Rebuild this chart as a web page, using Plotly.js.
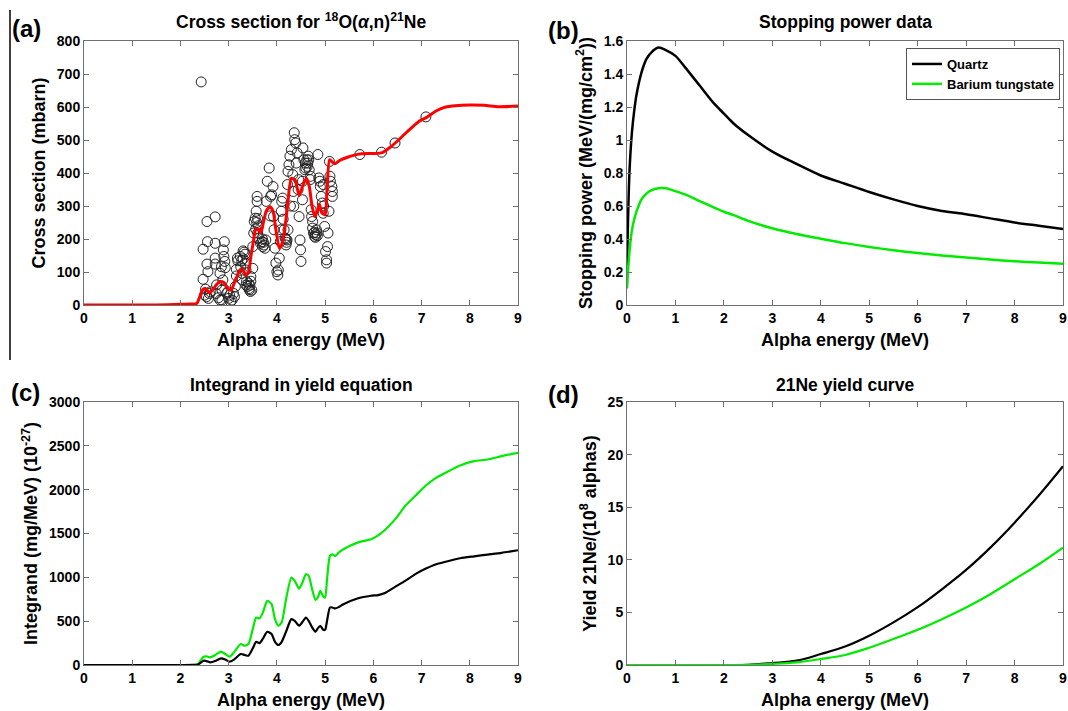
<!DOCTYPE html>
<html>
<head>
<meta charset="utf-8">
<script src="https://cdn.plot.ly/plotly-3.0.1.min.js"></script>
<style>html,body{margin:0;padding:0;background:#fff;}#plot{width:1068px;height:711px;}</style>
</head>
<body>
<div id="plot"></div>
<script>
// ---- Panel (a): measured cross sections (circles) ----
const measE = [2.43,2.47,2.47,2.52,2.55,2.56,2.55,2.57,2.54,2.6,2.72,2.72,2.72,2.72,2.75,2.74,2.79,2.82,2.82,2.85,
  2.91,2.89,2.9,2.92,2.93,2.88,2.86,2.86,2.96,3.0,3.04,3.07,3.1,3.14,3.16,3.18,3.16,3.19,3.24,3.25,
  3.28,3.28,3.3,3.34,3.34,3.36,3.37,3.39,3.43,3.41,3.45,3.46,3.5,3.5,3.52,3.53,3.55,3.57,3.59,3.59,
  3.6,3.63,3.66,3.69,3.71,3.73,3.75,3.77,3.78,3.8,3.84,3.87,3.89,3.92,3.93,3.94,3.96,3.98,4.0,4.02,
  4.03,4.05,4.07,4.08,4.09,4.1,4.12,4.15,4.17,4.19,4.21,4.23,4.22,4.23,4.25,4.27,4.3,4.33,4.34,4.35,
  4.36,4.37,4.39,4.4,4.42,4.45,4.46,4.48,4.49,4.5,4.53,4.53,4.54,4.56,4.59,4.6,4.62,4.64,4.65,4.67,
  4.69,4.71,4.72,4.74,4.74,4.76,4.78,4.8,4.82,4.83,4.85,4.87,4.89,4.9,4.92,4.94,4.96,4.96,4.99,5.01,
  5.03,5.03,5.05,5.06,5.08,5.09,5.1,5.11,5.14,5.15,5.15,5.72,6.17,6.45,7.09,
  3.42,3.44,3.46,3.58,3.6,3.62,3.7,3.72,4.2,4.19,4.78,4.8,4.84,4.66,4.63,3.32,3.3,3.27,2.5,2.58,2.62,
  3.12,3.02,2.98,3.36,3.48,3.56,3.86,4.13,4.28,4.44,4.58,4.7,4.97];
const measXS = [676,169,78,48,253,192,124,101,25,35,267,187,142,124,61,35,22,15,96,116,
  192,167,147,132,113,76,45,15,35,20,10,15,35,56,88,142,108,134,147,116,
  76,96,164,154,127,106,71,56,46,66,41,86,111,177,218,253,263,284,314,329,
  218,203,187,192,177,182,172,197,314,375,415,329,334,359,268,228,172,127,101,91,
  106,142,192,228,284,314,324,228,203,182,197,228,365,405,425,451,471,395,344,299,
  522,501,491,430,461,380,268,197,167,132,375,319,476,440,430,415,440,430,451,410,
  380,289,268,253,233,218,208,213,228,218,456,385,375,359,329,309,365,278,238,162,
  137,127,177,218,284,435,390,375,359,344,329,456,463,491,570,
  50,60,72,250,262,240,200,190,190,200,220,205,210,440,420,160,140,135,30,20,40,
  25,30,40,60,45,230,270,260,300,350,410,390,300];

// ---- Panel (a): fitted cross-section curve ----
const fitE  = [0,0.5,1,1.5,2,2.2,2.34,2.4,2.47,2.52,2.6,2.68,2.75,2.82,2.9,3.0,3.05,3.14,3.25,3.3,3.36,3.41,3.46,3.51,3.56,3.62,3.67,3.72,3.78,3.86,3.92,3.97,4.05,4.1,4.15,4.22,4.3,4.38,4.46,4.53,4.61,4.67,4.73,4.79,4.84,4.88,4.93,5.0,5.04,5.09,5.13,5.2,5.3,5.45,5.73,6.0,6.19,6.35,6.5,6.7,6.95,7.11,7.3,7.5,7.7,8.0,8.3,8.6,9.0];
const fitXS = [0,0,0,0,2,3,5,25,48,50,37,48,62,71,68,48,45,76,108,104,91,98,147,190,228,228,220,250,285,298,285,238,172,182,215,300,384,378,332,359,384,360,299,268,285,306,280,273,349,440,436,428,438,447,458,459,462,478,497,525,557,569,588,600,604,606,605,601,603];

// ---- Panel (b): stopping power ----
const spE      = [0,0.02,0.05,0.1,0.15,0.2,0.3,0.4,0.5,0.65,0.8,1.0,1.2,1.5,1.8,2.0,2.2,2.5,3.0,3.5,4.0,4.5,5.0,5.5,6.0,6.5,7.0,7.5,8.0,8.5,9.0];
const spQuartz = [0.24,0.5,0.8,1.04,1.18,1.28,1.41,1.49,1.53,1.56,1.545,1.51,1.44,1.33,1.22,1.16,1.10,1.03,0.93,0.855,0.785,0.735,0.685,0.64,0.60,0.57,0.55,0.525,0.50,0.48,0.46];
const spBaWO4  = [0.10,0.2,0.32,0.45,0.52,0.57,0.64,0.675,0.695,0.708,0.707,0.69,0.67,0.63,0.59,0.565,0.545,0.51,0.465,0.43,0.402,0.375,0.352,0.332,0.315,0.30,0.288,0.276,0.265,0.257,0.25];

// ---- Panel (c): integrand ----
const intE      = [0,1,2,2.3,2.36,2.48,2.54,2.62,2.72,2.84,2.93,3.02,3.11,3.25,3.33,3.41,3.5,3.57,3.64,3.71,3.8,3.89,3.96,4.03,4.1,4.19,4.3,4.37,4.46,4.53,4.6,4.66,4.73,4.8,4.85,4.9,4.96,5.0,5.04,5.1,5.15,5.21,5.28,5.38,5.67,5.95,6.1,6.24,6.45,6.66,6.88,7.09,7.3,7.52,7.8,8.09,8.37,8.66,9.0];
const intBaWO4  = [0,0,0,2,10,95,98,87,114,152,125,95,144,239,220,239,410,542,531,599,732,694,523,448,486,751,998,960,872,941,1036,1017,865,743,770,846,781,770,978,1244,1263,1244,1282,1320,1396,1434,1479,1540,1661,1813,1934,2048,2135,2200,2276,2325,2344,2382,2420];
const intQuartz = [0,0,0,1,5,49,45,30,45,76,62,38,62,125,115,106,190,265,250,300,379,353,265,228,265,380,523,504,448,490,542,504,430,379,420,448,402,402,504,656,656,645,660,694,759,790,797,820,891,960,1040,1100,1150,1180,1218,1240,1260,1280,1309];

// ---- Panel (d): yield curve ----
const yldE      = [0,1,2,2.5,3,3.5,4,4.5,5,5.5,6,6.5,7,7.5,8,8.5,9];
const yldQuartz = [0,0,0,0.02,0.19,0.41,1.04,1.75,2.78,4.05,5.5,7.2,9.04,11.16,13.53,16.12,18.9];
const yldBaWO4  = [0,0,0,0.01,0.1,0.25,0.57,0.95,1.64,2.47,3.35,4.36,5.47,6.73,8.15,9.58,11.16];

const xTicks = [0,1,2,3,4,5,6,7,8,9];

const GREEN = 'rgb(0,235,0)';
const traces = [
  {x: measE, y: measXS, type:'scatter', mode:'markers', xaxis:'x', yaxis:'y', showlegend:false,
   marker:{symbol:'circle-open', size:10, color:'#222', line:{width:1}}},
  {x: fitE, y: fitXS, type:'scatter', mode:'lines', xaxis:'x', yaxis:'y', showlegend:false,
   line:{color:'#ff0000', width:3, shape:'spline', smoothing:0.6}},
  {x: spE, y: spQuartz, type:'scatter', mode:'lines', xaxis:'x2', yaxis:'y2', name:'Quartz',
   line:{color:'#000', width:2.5, shape:'spline', smoothing:0.8}},
  {x: spE, y: spBaWO4, type:'scatter', mode:'lines', xaxis:'x2', yaxis:'y2', name:'Barium tungstate',
   line:{color:GREEN, width:2.5, shape:'spline', smoothing:0.8}},
  {x: intE, y: intBaWO4, type:'scatter', mode:'lines', xaxis:'x3', yaxis:'y3', showlegend:false,
   line:{color:GREEN, width:2.2, shape:'spline', smoothing:0.6}},
  {x: intE, y: intQuartz, type:'scatter', mode:'lines', xaxis:'x3', yaxis:'y3', showlegend:false,
   line:{color:'#000', width:2.2, shape:'spline', smoothing:0.6}},
  {x: yldE, y: yldQuartz, type:'scatter', mode:'lines', xaxis:'x4', yaxis:'y4', showlegend:false,
   line:{color:'#000', width:2.2, shape:'spline', smoothing:1}},
  {x: yldE, y: yldBaWO4, type:'scatter', mode:'lines', xaxis:'x4', yaxis:'y4', showlegend:false,
   line:{color:GREEN, width:2.2, shape:'spline', smoothing:1}}
];

const W = 1068, H = 711;
const px = v => v / W;
const py = v => 1 - v / H;
const AX = '#707070';
const FAM = 'Liberation Sans, Arial, sans-serif';
const tickFont = {family:FAM, size:14, color:'#000', weight:'bold'};
const titleFont = {family:FAM, size:18, color:'#000', weight:'bold'};

function xa(domain, anchor) {
  return {domain, anchor, range:[0,9], tickvals:xTicks, ticks:'inside', ticklen:5, tickcolor:AX,
    showline:true, linecolor:AX, linewidth:1, mirror:'ticks', showgrid:false, zeroline:false,
    tickfont:tickFont, automargin:false, fixedrange:true,
    title:{text:'<b>Alpha energy (MeV)</b>', font:titleFont, standoff:8}};
}
function ya(domain, anchor, range, dtick, title) {
  return {domain, anchor, range, dtick, tick0:0, ticks:'inside', ticklen:5, tickcolor:AX,
    showline:true, linecolor:AX, linewidth:1, mirror:'ticks', showgrid:false, zeroline:false,
    tickfont:tickFont, automargin:false, fixedrange:true,
    title:{text:title, font:titleFont, standoff:6}};
}

const dxL = [px(84), px(518)], dxR = [px(627), px(1063)];
const dyT = [py(305), py(41)], dyB = [py(665), py(402)];

const layout = {
  width:W, height:H, margin:{l:0,r:0,t:0,b:0}, paper_bgcolor:'#fff', plot_bgcolor:'#fff',
  font:{family:FAM, color:'#000'},
  xaxis: xa(dxL,'y'), yaxis: ya(dyT,'x',[0,800],100,'<b>Cross section (mbarn)</b>'),
  xaxis2: xa(dxR,'y2'), yaxis2: ya(dyT,'x2',[0,1.6],0.2,'<b>Stopping power (MeV/(mg/cm<sup>2</sup>))</b>'),
  xaxis3: xa(dxL,'y3'), yaxis3: ya(dyB,'x3',[0,3000],500,'<b>Integrand (mg/MeV) (10<sup>-27</sup>)</b>'),
  xaxis4: xa(dxR,'y4'), yaxis4: ya(dyB,'x4',[0,25],5,'<b>Yield 21Ne/(10<sup>8</sup> alphas)</b>'),
  showlegend:true,
  legend:{x:px(1060), y:py(48), xanchor:'right', yanchor:'top', bgcolor:'#fff', bordercolor:'#555', borderwidth:1,
    font:{family:FAM, size:13, color:'#000', weight:'bold'}, tracegroupgap:0},
  annotations:[
    {text:'<b>Cross section for <sup>18</sup>O(<i>α</i>,n)<sup>21</sup>Ne</b>', x:px(301), y:py(21), xref:'paper', yref:'paper', showarrow:false, xanchor:'center', yanchor:'middle', font:{size:17.5, color:'#000'}},
    {text:'<b>Stopping power data</b>', x:px(845), y:py(22), xref:'paper', yref:'paper', showarrow:false, xanchor:'center', yanchor:'middle', font:{size:17.5, color:'#000'}},
    {text:'<b>Integrand in yield equation</b>', x:px(301), y:py(385), xref:'paper', yref:'paper', showarrow:false, xanchor:'center', yanchor:'middle', font:{size:17.5, color:'#000'}},
    {text:'<b>21Ne yield curve</b>', x:px(845), y:py(385), xref:'paper', yref:'paper', showarrow:false, xanchor:'center', yanchor:'middle', font:{size:17.5, color:'#000'}},
    {text:'<b>(a)</b>', x:px(10), y:py(28), xref:'paper', yref:'paper', showarrow:false, xanchor:'left', yanchor:'middle', font:{size:24, color:'#000'}},
    {text:'<b>(b)</b>', x:px(546), y:py(30), xref:'paper', yref:'paper', showarrow:false, xanchor:'left', yanchor:'middle', font:{size:24, color:'#000'}},
    {text:'<b>(c)</b>', x:px(9), y:py(392), xref:'paper', yref:'paper', showarrow:false, xanchor:'left', yanchor:'middle', font:{size:24, color:'#000'}},
    {text:'<b>(d)</b>', x:px(546), y:py(394), xref:'paper', yref:'paper', showarrow:false, xanchor:'left', yanchor:'middle', font:{size:24, color:'#000'}}
  ],
  shapes:[
    {type:'line', xref:'paper', yref:'paper', x0:px(10), x1:px(10), y0:py(360), y1:py(10), line:{color:'#000', width:1.5}}
  ]
};

Plotly.newPlot('plot', traces, layout, {displayModeBar:false, staticPlot:true});
</script>
</body>
</html>
